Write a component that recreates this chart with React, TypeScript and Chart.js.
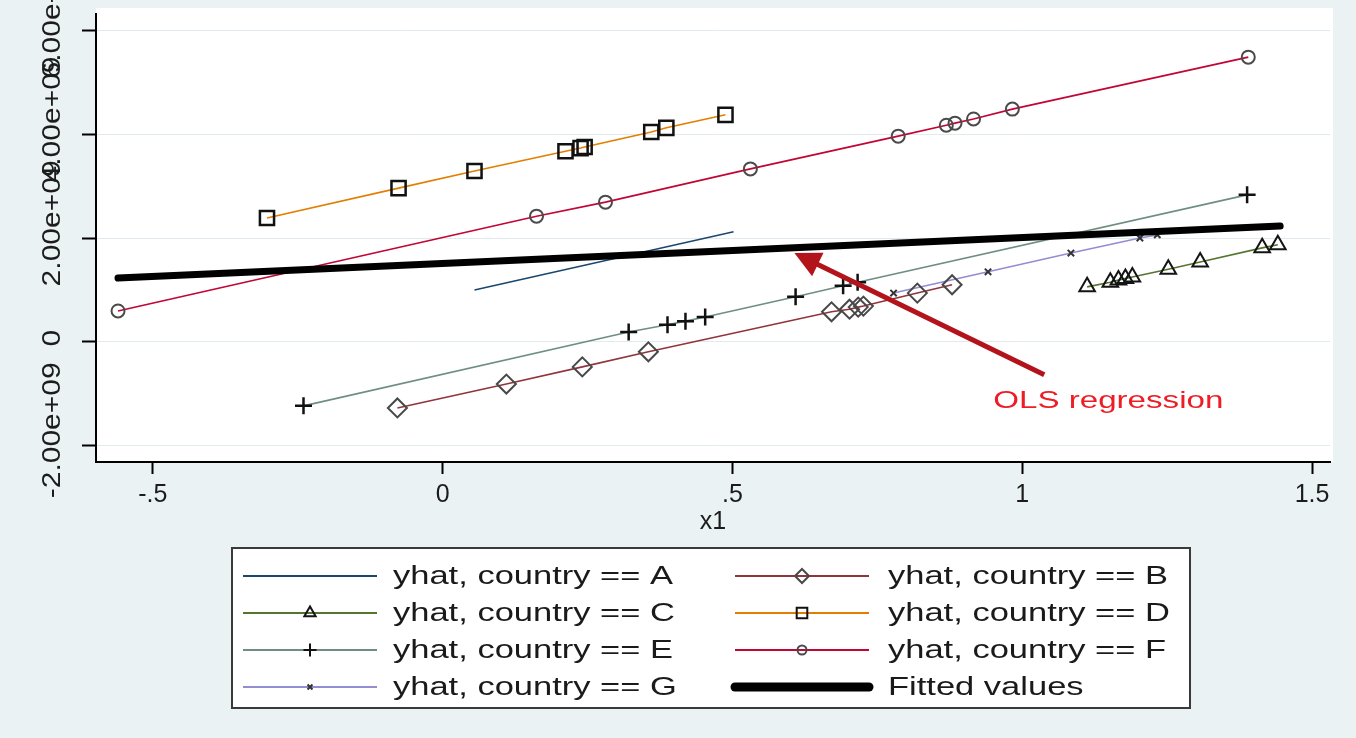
import { useEffect, useRef } from 'react';
import { Chart, registerables } from 'chart.js';

Chart.register(...registerables);

// ---- data (x1 values and yhat values) ----
const xA = [0.055, 0.502];
const yA = [1.0e9, 2.12e9];

const xB = [-0.078, 0.110, 0.241, 0.355, 0.671, 0.702, 0.717, 0.726, 0.819, 0.879];
const yB = [-1.27e9, -0.81e9, -0.48e9, -0.19e9, 0.58e9, 0.63e9, 0.67e9, 0.69e9, 0.94e9, 1.10e9];

const xC = [1.112, 1.152, 1.166, 1.178, 1.190, 1.252, 1.307, 1.414, 1.441];
const yC = [1.06e9, 1.15e9, 1.19e9, 1.22e9, 1.25e9, 1.40e9, 1.54e9, 1.81e9, 1.87e9];

const xD = [-0.303, -0.076, 0.055, 0.212, 0.238, 0.245, 0.360, 0.386, 0.488];
const yD = [2.385e9, 2.96e9, 3.29e9, 3.67e9, 3.73e9, 3.75e9, 4.04e9, 4.12e9, 4.37e9];

const xE = [-0.240, 0.321, 0.388, 0.419, 0.453, 0.609, 0.691, 0.716, 1.388];
const yE = [-1.23e9, 0.19e9, 0.33e9, 0.40e9, 0.48e9, 0.87e9, 1.08e9, 1.15e9, 2.83e9];

const xF = [-0.560, 0.162, 0.281, 0.531, 0.786, 0.869, 0.884, 0.916, 0.983, 1.390];
const yF = [0.596e9, 2.42e9, 2.69e9, 3.33e9, 3.96e9, 4.17e9, 4.21e9, 4.29e9, 4.48e9, 5.48e9];

const xG = [0.778, 0.941, 1.084, 1.203, 1.233];
const yG = [0.94e9, 1.35e9, 1.71e9, 2.00e9, 2.06e9];

const xFit = [-0.560, 1.445];
const yFit = [1.23e9, 2.23e9];

const X_TICKS = [-0.5, 0, 0.5, 1, 1.5];
const Y_TICKS = [-2e9, 0, 2e9, 4e9, 6e9];

const LEGEND_LABELS = [
  'yhat, country == A',
  'yhat, country == B',
  'yhat, country == C',
  'yhat, country == D',
  'yhat, country == E',
  'yhat, country == F',
  'yhat, country == G',
  'Fitted values',
];

const X_TITLE = 'x1';
const ANNOTATION_TEXT = 'OLS regression';
const ARROW_TAIL = { x: 1.038, y: -0.63e9 };
const ARROW_HEAD = { x: 0.607, y: 1.71e9 };
const TEXT_POS = { x: 0.95, y: -1.135e9 };

const X_MIN = -0.598;
const X_MAX = 1.531;
const Y_MIN = -2.31e9;
const Y_MAX = 6.31e9;

const FONT = '"Liberation Sans", Arial, sans-serif';

const pts = (xs: number[], ys: number[]) => xs.map((x, i) => ({ x, y: ys[i] }));

const fmtX = (v: number) => {
  if (v === 0) return '0';
  const s = String(Math.abs(v)).replace(/^0/, '');
  return (v < 0 ? '-' : '') + s;
};
const fmtY = (v: number) => {
  if (v === 0) return '0';
  return v.toExponential(2).replace(/e([+-])(\d)$/, 'e$10$2');
};

function drawMarker(ctx: CanvasRenderingContext2D, style: string, x: number, y: number, r: number) {
  ctx.beginPath();
  switch (style) {
    case 'circle':
      ctx.arc(x, y, r, 0, Math.PI * 2);
      break;
    case 'rect': {
      const s = r * Math.SQRT1_2;
      ctx.rect(x - s, y - s, 2 * s, 2 * s);
      break;
    }
    case 'rectRot':
      ctx.moveTo(x, y - r);
      ctx.lineTo(x + r, y);
      ctx.lineTo(x, y + r);
      ctx.lineTo(x - r, y);
      ctx.closePath();
      break;
    case 'triangle':
      ctx.moveTo(x, y - r);
      ctx.lineTo(x + r * 0.866, y + r * 0.5);
      ctx.lineTo(x - r * 0.866, y + r * 0.5);
      ctx.closePath();
      break;
    case 'cross':
      ctx.moveTo(x - r, y);
      ctx.lineTo(x + r, y);
      ctx.moveTo(x, y - r);
      ctx.lineTo(x, y + r);
      break;
    case 'crossRot': {
      const d = r * Math.SQRT1_2;
      ctx.moveTo(x - d, y - d);
      ctx.lineTo(x + d, y + d);
      ctx.moveTo(x - d, y + d);
      ctx.lineTo(x + d, y - d);
      break;
    }
    default:
      return;
  }
  ctx.stroke();
}

const bgPlugin = {
  id: 'bgPlugin',
  beforeDraw(chart: any) {
    const { ctx, chartArea: a, width, height } = chart;
    ctx.save();
    ctx.fillStyle = '#eaf2f3';
    ctx.fillRect(0, 0, width, height);
    ctx.fillStyle = '#ffffff';
    ctx.fillRect(a.left, a.top - 6, a.right - a.left + 3, a.bottom - a.top + 6);
    ctx.restore();
  },
};

const yLabelPlugin = {
  id: 'yLabelPlugin',
  afterDraw(chart: any) {
    const { ctx, chartArea: a } = chart;
    const ys = chart.scales.y;
    const sx = 1.2;
    ctx.save();
    ctx.font = `25px ${FONT}`;
    ctx.fillStyle = '#1c1c1c';
    ctx.textAlign = 'center';
    ctx.textBaseline = 'middle';
    ys.ticks.forEach((t: any) => {
      const label = fmtY(t.value);
      const py = ys.getPixelForValue(t.value);
      const w = ctx.measureText(label).width * sx;
      const shift = 0.1 * w + 2;
      ctx.save();
      ctx.translate(a.left - 43, py);
      ctx.rotate(-Math.PI / 2);
      ctx.scale(sx, 1);
      ctx.fillText(label, shift / sx, 0);
      ctx.restore();
    });
    ctx.restore();
  },
};

const annotationPlugin = {
  id: 'annotationPlugin',
  afterDatasetsDraw(chart: any) {
    const { ctx } = chart;
    const xs = chart.scales.x;
    const ys = chart.scales.y;
    const tx = xs.getPixelForValue(ARROW_TAIL.x);
    const ty = ys.getPixelForValue(ARROW_TAIL.y);
    const hx = xs.getPixelForValue(ARROW_HEAD.x);
    const hy = ys.getPixelForValue(ARROW_HEAD.y);
    const dx = hx - tx;
    const dy = hy - ty;
    const len = Math.hypot(dx, dy);
    const ux = dx / len;
    const uy = dy / len;
    const headLen = 26;
    const halfW = 13;
    const bx = hx - ux * headLen;
    const by = hy - uy * headLen;
    ctx.save();
    ctx.strokeStyle = '#b3141c';
    ctx.fillStyle = '#b3141c';
    ctx.lineWidth = 5;
    ctx.beginPath();
    ctx.moveTo(tx, ty);
    ctx.lineTo(bx + ux * 4, by + uy * 4);
    ctx.stroke();
    ctx.beginPath();
    ctx.moveTo(hx, hy);
    ctx.lineTo(bx - uy * halfW, by + ux * halfW);
    ctx.lineTo(bx + uy * halfW, by - ux * halfW);
    ctx.closePath();
    ctx.fill();

    const px = xs.getPixelForValue(TEXT_POS.x);
    const py = ys.getPixelForValue(TEXT_POS.y);
    ctx.font = `24px ${FONT}`;
    ctx.fillStyle = '#ee1c25';
    ctx.textAlign = 'left';
    ctx.textBaseline = 'middle';
    ctx.translate(px, py);
    ctx.scale(1.38, 1);
    ctx.fillText(ANNOTATION_TEXT, 0, 0);
    ctx.restore();
  },
};

const legendPlugin = {
  id: 'legendPlugin',
  afterDraw(chart: any) {
    const { ctx } = chart;
    const box = { x: 232, y: 548, w: 958, h: 160 };
    ctx.save();
    ctx.fillStyle = '#ffffff';
    ctx.fillRect(box.x, box.y, box.w, box.h);
    ctx.strokeStyle = '#3a3a3a';
    ctx.lineWidth = 2;
    ctx.strokeRect(box.x, box.y, box.w, box.h);

    const lineX = [243, 735];
    const textX = [393, 888];
    const legendRadius: Record<string, number> = {
      rectRot: 7,
      triangle: 6.5,
      rect: 7.5,
      cross: 6.5,
      circle: 4.5,
      crossRot: 3.5,
    };
    chart.data.datasets.forEach((ds: any, i: number) => {
      const col = i % 2;
      const row = Math.floor(i / 2);
      const cy = 576 + row * 37;
      const x0 = lineX[col];
      const x1 = x0 + 134;
      ctx.strokeStyle = ds.borderColor;
      ctx.lineWidth = ds.borderWidth > 3 ? 9 : 2;
      ctx.lineCap = ds.borderWidth > 3 ? 'round' : 'butt';
      ctx.beginPath();
      ctx.moveTo(x0, cy);
      ctx.lineTo(x1, cy);
      ctx.stroke();
      ctx.lineCap = 'butt';
      if (ds.pointRadius > 0) {
        ctx.strokeStyle = ds.pointBorderColor;
        ctx.lineWidth = Math.min(ds.pointBorderWidth, 2);
        drawMarker(ctx, ds.pointStyle, (x0 + x1) / 2, cy, legendRadius[ds.pointStyle] || 5);
      }
      ctx.save();
      ctx.font = `25px ${FONT}`;
      ctx.fillStyle = '#1a1a1a';
      ctx.textAlign = 'left';
      ctx.textBaseline = 'middle';
      ctx.translate(textX[col], cy + 1);
      ctx.scale(1.38, 1);
      ctx.fillText(LEGEND_LABELS[i], 0, 0);
      ctx.restore();
    });
    ctx.restore();
  },
};

export default function App() {
  const canvasRef = useRef<HTMLCanvasElement | null>(null);

  useEffect(() => {
    const canvas = canvasRef.current;
    if (!canvas) return;
    const common = { showLine: true, borderWidth: 1.6, pointBackgroundColor: 'rgba(0,0,0,0)' };
    const chart = new Chart(canvas, {
      type: 'scatter',
      data: {
        datasets: [
          { ...common, label: LEGEND_LABELS[0], data: pts(xA, yA), borderColor: '#1a476f', pointRadius: 0, pointStyle: 'circle', order: 1 },
          { ...common, label: LEGEND_LABELS[1], data: pts(xB, yB), borderColor: '#90353b', pointStyle: 'rectRot', pointRadius: 9.5, pointBorderColor: '#484848', pointBorderWidth: 2, order: 1 },
          { ...common, label: LEGEND_LABELS[2], data: pts(xC, yC), borderColor: '#55752f', pointStyle: 'triangle', pointRadius: 9, pointBorderColor: '#141414', pointBorderWidth: 2, order: 1 },
          { ...common, label: LEGEND_LABELS[3], data: pts(xD, yD), borderColor: '#e37e00', pointStyle: 'rect', pointRadius: 10, pointBorderColor: '#111111', pointBorderWidth: 2.5, order: 1 },
          { ...common, label: LEGEND_LABELS[4], data: pts(xE, yE), borderColor: '#6e8e84', pointStyle: 'cross', pointRadius: 8.5, pointBorderColor: '#111111', pointBorderWidth: 2.5, order: 1 },
          { ...common, label: LEGEND_LABELS[5], data: pts(xF, yF), borderColor: '#c10534', pointStyle: 'circle', pointRadius: 6.5, pointBorderColor: '#4a4a4a', pointBorderWidth: 2, order: 1 },
          { ...common, label: LEGEND_LABELS[6], data: pts(xG, yG), borderColor: '#938dd2', pointStyle: 'crossRot', pointRadius: 4.5, pointBorderColor: '#333333', pointBorderWidth: 2, order: 1 },
          { ...common, label: LEGEND_LABELS[7], data: pts(xFit, yFit), borderColor: '#000000', borderWidth: 7, borderCapStyle: 'round', pointRadius: 0, pointStyle: 'circle', order: 0 },
        ],
      },
      options: {
        responsive: false,
        animation: false,
        devicePixelRatio: 1,
        layout: { padding: { left: 0, right: 26, top: 14, bottom: 201 } },
        plugins: {
          legend: { display: false },
          tooltip: { enabled: false },
        },
        scales: {
          x: {
            type: 'linear',
            min: X_MIN,
            max: X_MAX,
            afterFit: (s: any) => { s.height = 75; },
            afterBuildTicks: (s: any) => { s.ticks = X_TICKS.map((v) => ({ value: v })); },
            ticks: {
              autoSkip: false,
              maxRotation: 0,
              minRotation: 0,
              padding: 6,
              color: '#1c1c1c',
              font: { family: FONT, size: 25 },
              callback: (v: any) => fmtX(Number(v)),
            },
            grid: { drawOnChartArea: false, drawTicks: true, tickLength: 12, tickWidth: 2, tickColor: '#000000' },
            border: { display: true, color: '#000000', width: 2 },
            title: { display: true, text: X_TITLE, color: '#1c1c1c', font: { family: FONT, size: 25 }, padding: { top: 0, bottom: 0 } },
          },
          y: {
            type: 'linear',
            min: Y_MIN,
            max: Y_MAX,
            afterFit: (s: any) => { s.width = 96; },
            afterBuildTicks: (s: any) => { s.ticks = Y_TICKS.map((v) => ({ value: v })); },
            ticks: { autoSkip: false, display: false },
            grid: { color: '#e1eaee', lineWidth: 1, drawTicks: true, tickLength: 14, tickWidth: 2, tickColor: '#000000' },
            border: { display: true, color: '#000000', width: 2 },
          },
        },
      },
      plugins: [bgPlugin, annotationPlugin, yLabelPlugin, legendPlugin],
    } as any);
    return () => chart.destroy();
  }, []);

  return (
    <div style={{ position: 'fixed', left: 0, top: 0, width: 1356, height: 738, background: '#eaf2f3' }}>
      <canvas ref={canvasRef} width={1356} height={738} />
    </div>
  );
}
